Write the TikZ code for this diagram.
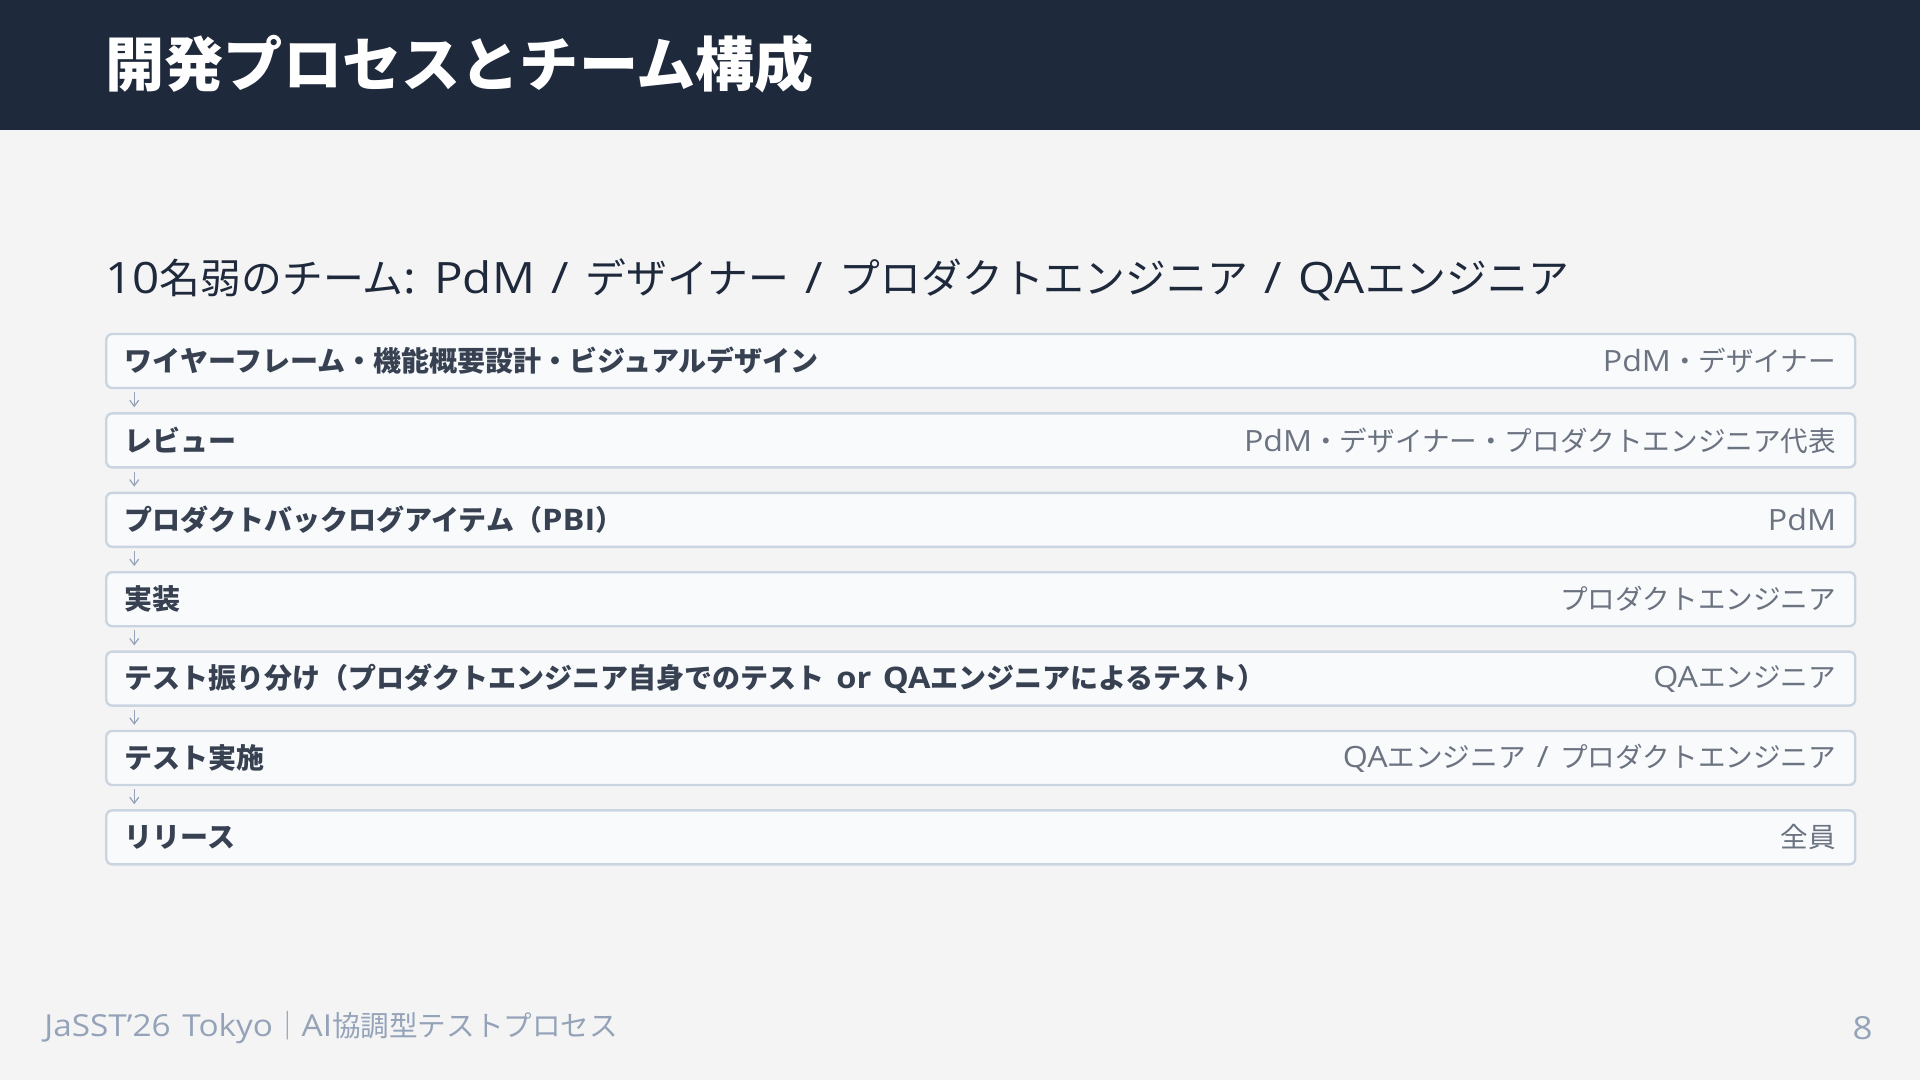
\documentclass[tikz,border=0pt]{standalone}
\usepackage{fontspec}
\setmainfont{Noto Sans CJK JP}
\newfontfamily\latfont{Open Sans}[Scale=1.06, FakeStretch=1.1, WordSpace=1.35]
\newcommand\lat[1]{{\latfont #1}}
\usetikzlibrary{arrows.meta}
\definecolor{bg}{HTML}{F4F4F5}
\definecolor{hdr}{HTML}{1E293B}
\definecolor{boxfill}{HTML}{F8FAFC}
\definecolor{boxline}{HTML}{CBD5E1}
\definecolor{lefttxt}{HTML}{374151}
\definecolor{righttxt}{HTML}{6B7280}
\definecolor{foot}{HTML}{94A3B8}
\definecolor{sub}{HTML}{1E293B}
\tikzset{
  stepbox/.style={draw=boxline, fill=boxfill, line width=1.2pt, rounded corners=3pt,
    minimum width=874.5pt, minimum height=27pt, inner sep=0pt},
  lefttext/.style={anchor=west, inner sep=0pt, text=lefttxt, font=\fontsize{14pt}{16pt}\selectfont\bfseries},
  righttext/.style={anchor=east, inner sep=0pt, text=righttxt, font=\fontsize{13.8pt}{16pt}\selectfont},
  flowarrow/.style={draw=foot, line width=0.6pt, -{Straight Barb[length=3pt,width=4.5pt]}},
}
\begin{document}
\begin{tikzpicture}[x=0.5pt,y=-0.5pt]
\useasboundingbox (0,0) rectangle (1920,1080);
\fill[bg] (0,0) rectangle (1920,1080);
\fill[hdr] (0,0) rectangle (1920,130);
\node[anchor=west, inner sep=0pt, text=white, font=\fontsize{29.6pt}{32pt}\selectfont\bfseries] (title) at (105,64) {開発プロセスとチーム構成};
\node[anchor=west, inner sep=0pt, text=sub, font=\fontsize{20.4pt}{24pt}\selectfont] (subt) at (105,280) {\lat{10}名弱のチーム\lat{:}\hspace{0.45em}\lat{PdM / }デザイナー\lat{ / }プロダクトエンジニア\lat{ / QA}エンジニア};

\foreach \i/\l/\r in {
  1/{ワイヤーフレーム・機能概要設計・ビジュアルデザイン}/{\lat{PdM}・デザイナー},
  2/{レビュー}/{\lat{PdM}・デザイナー・プロダクトエンジニア代表},
  3/{プロダクトバックログアイテム（\lat{PBI}）}/{\lat{PdM}},
  4/{実装}/{プロダクトエンジニア},
  5/{テスト振り分け（プロダクトエンジニア自身でのテスト\lat{ or QA}エンジニアによるテスト）}/{\lat{QA}エンジニア},
  6/{テスト実施}/{\lat{QA}エンジニア\lat{ / }プロダクトエンジニア},
  7/{リリース}/{全員}} {
  \node[stepbox] (b\i) at (980.75, {361+79.4*(\i-1)}) {};
  \node[lefttext] (l\i) at ([xshift=9.75pt]b\i.west) {\l};
  \node[righttext] (r\i) at ([xshift=-10pt]b\i.east) {\r};
}
\foreach \i [evaluate=\i as \j using int(\i+1)] in {1,...,6} {
  \draw[flowarrow] ([xshift=14.6pt,yshift=-1.5pt]b\i.south west) -- ([xshift=14.6pt,yshift=2.5pt]b\j.north west);
}

\node[anchor=west, inner sep=0pt, text=foot, font=\fontsize{14.3pt}{16pt}\selectfont] (footer) at (44,1028) {\lat{JaSST’26 Tokyo}｜\lat{AI}協調型テストプロセス};
\node[anchor=east, inner sep=0pt, text=foot, font=\fontsize{15pt}{18pt}\selectfont] (page) at (1873,1028) {\lat{8}};
\end{tikzpicture}
\end{document}
